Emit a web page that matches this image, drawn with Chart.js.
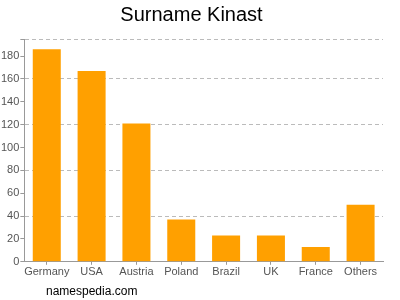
<!DOCTYPE html>
<html>
<head>
<meta charset="utf-8">
<script src="https://cdn.jsdelivr.net/npm/chart.js@4/dist/chart.umd.min.js"></script>
<style>
  html, body { margin: 0; padding: 0; background: #fff; }
  #wrap { position: relative; width: 400px; height: 300px; }
  #site { position: absolute; left: 46px; top: 284px; font: 12px Arial, "Liberation Sans", sans-serif; color: #000; }
</style>
</head>
<body>
<div id="wrap">
  <canvas id="surnameChart" width="400" height="300"></canvas>
  <div id="site">namespedia.com</div>
</div>
<script>
// 국가별 성씨 분포
const countries = ["Germany", "USA", "Austria", "Poland", "Brazil", "UK", "France", "Others"];
const counts = [186, 167, 121, 37, 23, 23, 13, 50];
const yMax = 195;
const yStep = 20;

const font = "Arial, 'Liberation Sans', sans-serif";

const ctx = document.getElementById("surnameChart");
new Chart(ctx, {
  type: "bar",
  data: {
    labels: countries,
    datasets: [{
      data: counts,
      backgroundColor: "#FFA000",
      barPercentage: 0.625,
      categoryPercentage: 1
    }]
  },
  options: {
    responsive: false,
    animation: false,
    layout: { padding: { left: 0, right: 17, top: 0, bottom: 20 } },
    plugins: {
      legend: { display: false },
      tooltip: { enabled: false },
      title: {
        display: true,
        text: "Surname Kinast",
        color: "#000",
        font: { family: font, size: 20, weight: "normal" },
        padding: { top: 3, bottom: 12 }
      }
    },
    scales: {
      x: {
        offset: true,
        grid: { drawOnChartArea: false, offset: false, tickColor: "#999", tickLength: 3 },
        border: { color: "#999" },
        ticks: {
          color: "#555",
          padding: 1,
          maxRotation: 0,
          autoSkip: false,
          font: { family: font, size: 11 }
        }
      },
      y: {
        min: 0,
        max: yMax,
        border: { color: "#999", dash: [4, 3] },
        grid: {
          color: c => (c.tick.value > 0 && (c.tick.value % 40 === 0 || c.tick.value === yMax)) ? "#bbb" : "rgba(0,0,0,0)",
          tickColor: "#999",
          tickLength: 4
        },
        ticks: {
          stepSize: yStep,
          color: "#555",
          padding: 1,
          font: { family: font, size: 11 },
          callback: v => (v % yStep === 0 ? v : "")
        }
      }
    }
  }
});
</script>
</body>
</html>
